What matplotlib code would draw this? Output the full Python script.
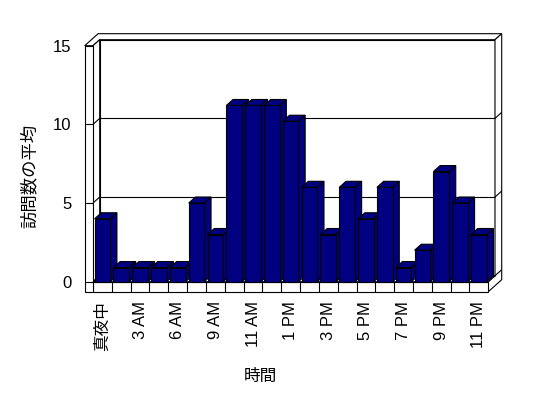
import matplotlib
matplotlib.use("Agg")
import matplotlib.pyplot as plt
from matplotlib.patches import Polygon

# ---- data ----
categories = ['真夜中', '1 AM', '3 AM', '5 AM', '6 AM', '8 AM', '9 AM', '10 AM',
              '11 AM', '12 PM', '1 PM', '2 PM', '3 PM', '4 PM', '5 PM', '6 PM',
              '7 PM', '8 PM', '9 PM', '10 PM', '11 PM']
values = [4, 0.9, 0.9, 0.9, 0.9, 5, 3, 11.2, 11.2, 11.2, 10.2, 6, 3, 6, 4, 6,
          0.9, 2, 7, 5, 3]
y_ticks = [0, 5, 10, 15]
y_label = '訪問数の平均'
x_label = '時間'

FONT = ['Liberation Sans', 'Noto Sans CJK JP', 'DejaVu Sans']
plt.rcParams['font.family'] = FONT

W, H = 548, 398
fig = plt.figure(figsize=(W / 100, H / 100), dpi=100)
fig.patch.set_facecolor('white')

# front plane of plot in pixels
L, R, T, B = 93, 488.3, 45.7, 281.7
ax = fig.add_axes([L / W, (H - B) / H, (R - L) / W, (B - T) / H])
n = len(values)
x0, x1 = -0.5, n - 0.5
ymax = 15
ax.set_xlim(x0, x1)
ax.set_ylim(0, ymax)
for s in ax.spines.values():
    s.set_visible(False)
ax.set_facecolor('none')

pxx = (R - L) / n          # px per category
pxy = (B - T) / ymax       # px per value unit
DX, DY = 6.7 / pxx, 6.0 / pxy       # depth offset
WALL = 8.3 / pxx
FLOOR = 10.0 / pxy
LW = 0.8
EC = 'black'

def poly(pts, z, fc='white'):
    ax.add_patch(Polygon(pts, closed=True, facecolor=fc, edgecolor=EC,
                         linewidth=LW, zorder=z, clip_on=False, joinstyle='miter'))

def seg(xs, ys, z=1.5):
    ax.plot(xs, ys, color=EC, linewidth=LW, zorder=z, clip_on=False,
            solid_capstyle='butt')

# back wall front face
poly([(x0 + DX, DY), (x1 + DX, DY), (x1 + DX, ymax + DY), (x0 + DX, ymax + DY)], 1)
# top face (left + back walls)
poly([(x0 - WALL, ymax), (x0, ymax), (x0 + DX, ymax + DY), (x1 + DX, ymax + DY),
      (x1 + 2 * DX, ymax + 2 * DY), (x0 - WALL + 2 * DX, ymax + 2 * DY)], 1)
# right face
poly([(x1 + DX, ymax + DY), (x1 + 2 * DX, ymax + 2 * DY), (x1 + 2 * DX, -FLOOR + 2 * DY),
      (x1, -FLOOR), (x1, 0), (x1 + DX, DY)], 1)
# floor top
poly([(x0, 0), (x1, 0), (x1 + DX, DY), (x0 + DX, DY)], 1)
# floor front
poly([(x0, -FLOOR), (x1, -FLOOR), (x1, 0), (x0, 0)], 1)
for k in range(1, n):
    seg([x0 + k, x0 + k], [-FLOOR, 0], 1.2)
# left wall inner face
poly([(x0, 0), (x0, ymax), (x0 + DX, ymax + DY), (x0 + DX, DY)], 1)
# left wall front face
poly([(x0 - WALL, -FLOOR), (x0, -FLOOR), (x0, ymax), (x0 - WALL, ymax)], 1.1)

# gridlines
for v in y_ticks[:-1]:
    seg([x0 - WALL, x0], [v, v])
    seg([x0, x0 + DX], [v, v + DY])
    seg([x0 + DX, x1 + DX], [v + DY, v + DY])
    seg([x1 + DX, x1 + 2 * DX], [v + DY, v + 2 * DY])

# bars
BW = 0.83
NAVY = '#000080'
xs = list(range(n))
bars = ax.bar(xs, values, width=BW, color=NAVY, edgecolor=EC, linewidth=LW,
              clip_on=False)
for i, (rect, v) in enumerate(zip(bars.patches, values)):
    z = 2 + i * 0.01
    xr = i + BW / 2
    xl = i - BW / 2
    poly([(xr, 0), (xr + DX, DY), (xr + DX, v + DY), (xr, v)], z, NAVY)
    poly([(xl, v), (xr, v), (xr + DX, v + DY), (xl + DX, v + DY)], z, NAVY)
    rect.set_zorder(z + 0.005)

# ticks
ax.set_yticks(y_ticks)
ax.set_yticklabels([str(t) for t in y_ticks], fontsize=12)
ax.tick_params(axis='y', length=0, pad=15.5)
ax.set_xticks(xs[::2])
ax.set_xticklabels(categories[::2], rotation=90, fontsize=12)
ax.tick_params(axis='x', length=0, pad=14)

fig.text(29 / W, 1 - 176 / H, y_label, rotation=90, ha='center', va='center',
         fontsize=12.5)
fig.text(260 / W, 1 - 376 / H, x_label, ha='center', va='center', fontsize=12)

fig.savefig('out.png', dpi=100, facecolor='white')
